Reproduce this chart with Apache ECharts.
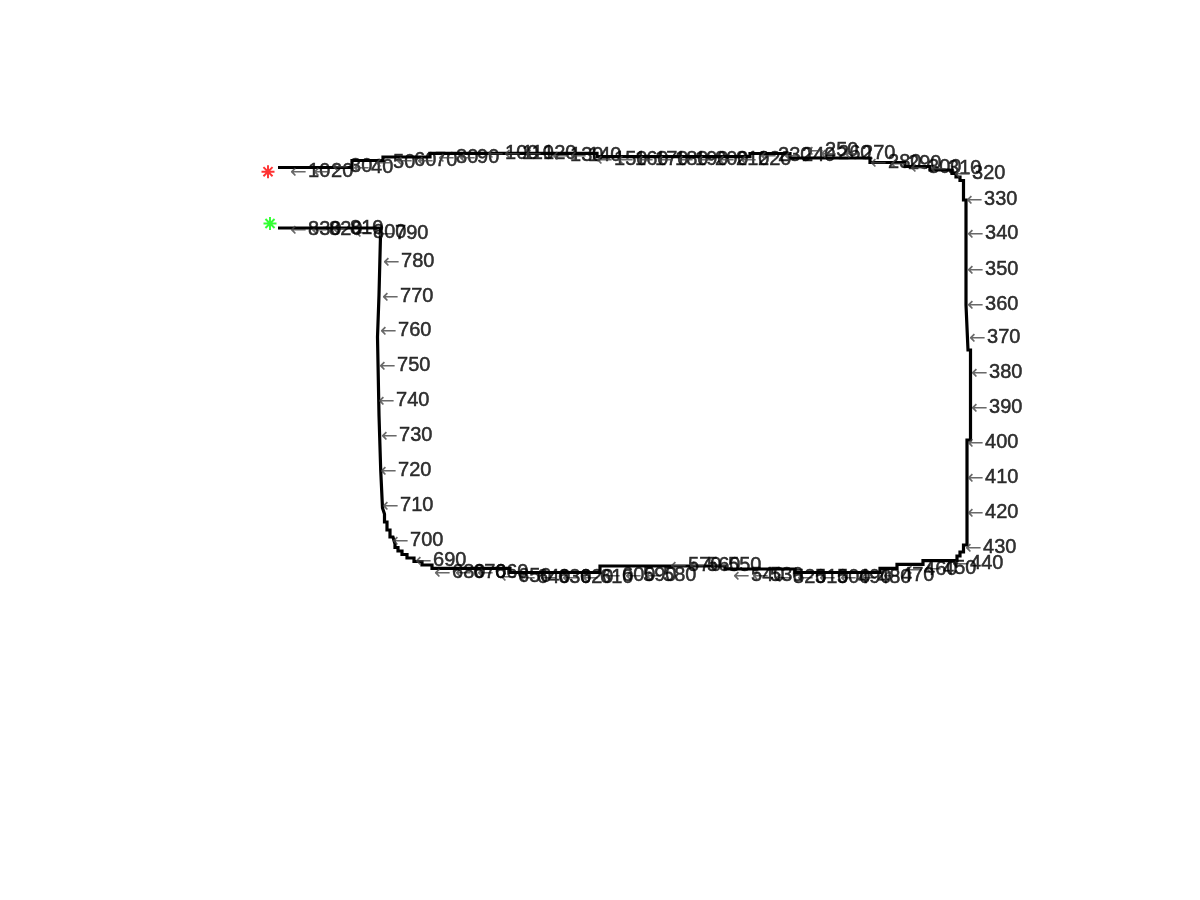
<!DOCTYPE html>
<html>
<head>
<meta charset="utf-8">
<script src="https://cdn.jsdelivr.net/npm/echarts@6/dist/echarts.min.js"></script>
<style>html,body{margin:0;padding:0;background:#fff;}#chart{width:1200px;height:900px;}</style>
</head>
<body>
<div id="chart"></div>
<script>
// Path vertices (trajectory corners)
const pathX = [278,352,352,383,383,430,430,597,597,750,750,790,790,870,870,905,905,930,930,952,952,956,956,960,960,963.5,963.5,966,966,968,968,970.5,970.5,967,967,963.5,963.5,960,960,957,957,923,923,897,897,880,880,795,795,725,725,600,600,510,510,432,432,422,422,414,414,407,407,402,402,398,398,395,395,393,393,390,390,387,387,384.5,384.5,382.5,382.5,380.7,380.7,379,379,377.5,377.5,379,379,380.7,380.7,278];
const pathY = [167.5,167.5,160.5,160.5,157,157,153.3,153.3,156.7,156.7,153.5,153.5,158,158,162.5,162.5,166.5,166.5,170,170,173.5,173.5,177,177,180.5,180.5,200,200,305,305,350,350,440,440,545,545,552,552,556,556,560.7,560.7,564.3,564.3,568.3,568.3,572.5,572.5,569,569,566,566,572.5,572.5,568.3,568.3,565,565,561.5,561.5,558,558,554.5,554.5,551,551,547.5,547.5,544,544,537,537,530,530,522,522,514,514,508,508,470,470,415,415,337,337,295,295,228,228];

// Labelled samples (every 10th point)
const labelNum = [10,20,30,40,50,60,70,80,90,100,110,120,130,140,150,160,170,180,190,200,210,220,230,240,250,260,270,280,290,300,310,320,330,340,350,360,370,380,390,400,410,420,430,440,450,460,470,480,490,500,510,520,530,540,550,560,570,580,590,600,610,620,630,640,650,660,670,680,690,700,710,720,730,740,750,760,770,780,790,800,810,820,830];
const labelX = [290,313,332,353,375,396,417,438,459,487,504,525,552,570,596,617,637,657,677,697,718,740,760,784,807,820,844,870,890,910,930,954,966,967,967,967,969,971,971,967,967,967,965,952,925,906,883,860,840,819,797,775,752,733,710,689,670,645,625,604,582,562,540,519,500,477,455,434,415,392,382,380,381,378,379,380,382,383,377,355,332,311,290];
const labelY = [171,171,166,167,162,160,160,157,157,153,153,153,155,155,159,159,159,159,159,159,159,159,155,155,150,153,153,162,163,167,168,173,199,233,269,304,337,372,407,442,477,512,547,563,568,569,575,577,577,577,577,577,575,575,565,565,565,575,575,575,577,577,577,577,576,572,572,572,560,540,505,470,435,400,365,330,296,261,233,232,228,229,229];

// Start / end markers
const startPoint = [268, 171.7];
const endPoint = [270, 223.5];

const chart = echarts.init(document.getElementById('chart'), null, {renderer: 'canvas'});
const pathData = pathX.map((x, i) => [x, pathY[i]]);
const labelData = labelNum.map((n, i) => ({value: [labelX[i], labelY[i]], name: String(n)}));
const star = 'path://M5.1,0 L6.9,0 L6.9,12 L5.1,12 Z M0,5.1 L12,5.1 L12,6.9 L0,6.9 Z M2.44,1.16 L10.84,9.56 L9.56,10.84 L1.16,2.44 Z M9.56,1.16 L10.84,2.44 L2.44,10.84 L1.16,9.56 Z';

chart.setOption({
  animation: false,
  backgroundColor: '#ffffff',
  grid: {left: 156, top: 68, width: 930, height: 733, containLabel: false},
  xAxis: {type: 'value', min: 156, max: 1086, show: false},
  yAxis: {type: 'value', min: 68, max: 801, inverse: true, show: false},
  series: [
    {
      type: 'line', data: pathData, showSymbol: false, clip: false,
      lineStyle: {color: '#000', width: 3.2, join: 'miter', cap: 'butt'},
      z: 2
    },
    {
      type: 'scatter', data: labelData, symbolSize: 0.1, clip: false,
      itemStyle: {color: 'rgba(0,0,0,0)'},
      label: {
        show: true, position: 'right', distance: 0,
        formatter: p => '{a|\u2190}{b|' + p.name + '}',
        rich: {
          a: {fontFamily: 'DejaVu Sans', fontSize: 20, color: '#444', width: 18, padding: [3, 0, 0, 0]},
          b: {fontFamily: 'Liberation Sans', fontSize: 20, color: '#000', textBorderColor: '#000', textBorderWidth: 0.5}
        },
        verticalAlign: 'middle'
      },
      labelLayout: {hideOverlap: false},
      z: 3
    },
    {
      type: 'scatter', data: [startPoint], symbol: star, symbolSize: 13, clip: false,
      itemStyle: {color: '#ff0000'}, z: 4
    },
    {
      type: 'scatter', data: [endPoint], symbol: star, symbolSize: 13, clip: false,
      itemStyle: {color: '#00ff00'}, z: 4
    }
  ]
});
</script>
</body>
</html>
